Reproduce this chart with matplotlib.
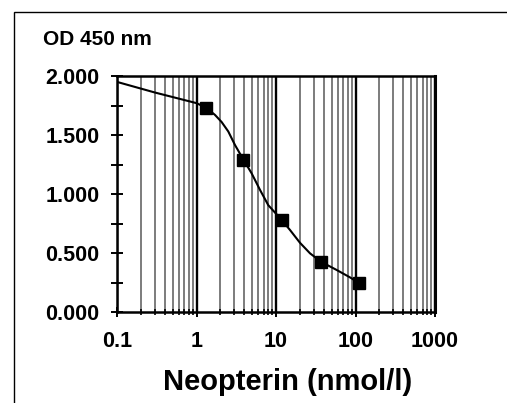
import numpy as np
import matplotlib
matplotlib.use("Agg")
import matplotlib.pyplot as plt
from matplotlib.ticker import FixedLocator, NullFormatter, LogLocator
from matplotlib.patches import Rectangle

plt.rcParams['font.family'] = ['Liberation Sans', 'DejaVu Sans']
plt.rcParams['font.weight'] = 'bold'

# Standardpunkte
konz = [1.33, 3.9, 11.8, 37.0, 111.0]
od = [1.73, 1.29, 0.78, 0.425, 0.245]

# Kurve
kurve_x = [0.1, 0.3, 1.0, 1.33, 1.71, 2.07, 2.51, 3.05, 3.9, 4.94, 6.29, 8.0,
           11.8, 15.0, 20.0, 26.8, 37.0, 58.0, 85.0, 111.0]
kurve_y = [1.95, 1.86, 1.77, 1.73, 1.67, 1.61, 1.53, 1.415, 1.29, 1.175, 1.035, 0.905,
           0.78, 0.695, 0.587, 0.497, 0.425, 0.356, 0.294, 0.245]

y_ticks = [0.0, 0.5, 1.0, 1.5, 2.0]
y_labels = ["0.000", "0.500", "1.000", "1.500", "2.000"]
x_ticks = [0.1, 1, 10, 100, 1000]
x_labels = ["0.1", "1", "10", "100", "1000"]

fig = plt.figure(figsize=(5.07, 4.03), dpi=100)
ax = fig.add_axes([117/507, 1-312/403, (435-117)/507, (312-76)/403])

ax.set_xscale('log')
ax.set_xlim(0.1, 1000)
ax.set_ylim(0, 2.0)

# vertikales Gitter
ax.xaxis.set_minor_locator(LogLocator(base=10, subs=np.arange(2, 10)))
ax.xaxis.set_minor_formatter(NullFormatter())
ax.grid(True, axis='x', which='minor', color='#666666', lw=1.2)
ax.grid(True, axis='x', which='major', color='black', lw=1.7)

ax.plot(kurve_x, kurve_y, color='black', lw=1.5, zorder=3, solid_joinstyle='round')
ax.plot(konz, od, 's', color='black', ms=8.5, zorder=4, clip_on=False)

ax.set_xticks(x_ticks)
ax.set_xticklabels(x_labels)
ax.set_yticks(y_ticks)
ax.set_yticklabels(y_labels)
ax.yaxis.set_minor_locator(FixedLocator([0.25, 0.75, 1.25, 1.75]))

ax.tick_params(axis='y', which='both', direction='inout', length=9, width=1.4,
               labelsize=15.5, pad=8)
ax.tick_params(axis='x', which='major', direction='inout', length=7, width=1.4,
               labelsize=15.5, pad=10)
ax.tick_params(axis='x', which='minor', direction='inout', length=5, width=1.2)

for s in ax.spines.values():
    s.set_linewidth(1.8)
    s.set_color('black')
ax.spines['right'].set_linewidth(2.2)

fig.text(43/507, 1-45/403, "OD 450 nm", fontsize=15, fontweight='bold', va='baseline')
fig.text(288/507, 1-390/403, "Neopterin (nmol/l)", fontsize=21, fontweight='bold',
         ha='center', va='baseline')

# äußerer Rahmen
fig.patches.append(Rectangle((14/507, -0.1), 1.0, 1-12/403+0.1, transform=fig.transFigure,
                             fill=False, ec='black', lw=1.0))

fig.savefig("out.png", dpi=100)
